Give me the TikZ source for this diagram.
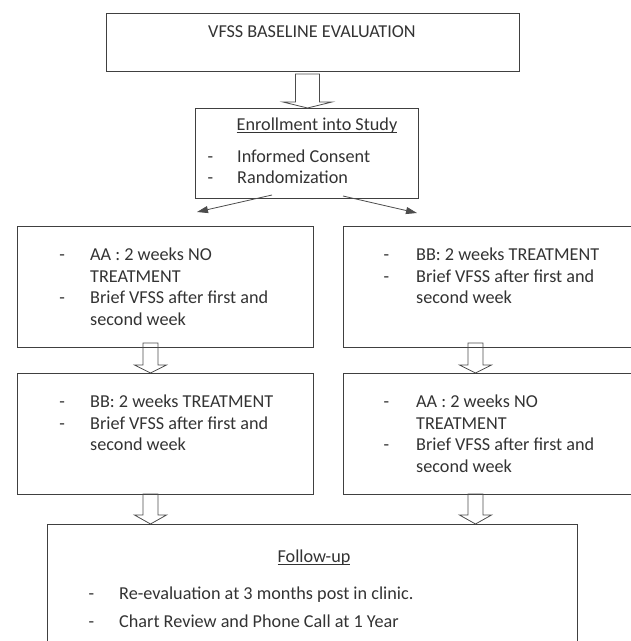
\documentclass[tikz,border=0pt]{standalone}
\usepackage{fontspec}
\setmainfont{Carlito}
\usetikzlibrary{arrows.meta}

\newcommand{\boxfont}{\fontsize{18.2}{21.5}\selectfont}
\newcommand{\underl}[1]{\setbox0\hbox{#1}\rlap{\rule[-2.6pt]{\wd0}{0.8pt}}#1}

\tikzset{
  box/.style={draw=black!75, line width=0.8pt, anchor=north west, inner sep=0pt},
  ttl/.style={anchor=base, inner sep=0pt, font=\boxfont, text=black!80},
  lst/.style={anchor=base west, inner sep=0pt, font=\boxfont, text=black!80},
  blockarrow/.style={draw=black!70, line width=0.8pt, line join=miter},
  thinarrow/.style={draw=black!70, line width=0.8pt, -{Triangle[length=11pt,width=7pt]}}
}

\begin{document}
\begin{tikzpicture}[x=1pt,y=-1pt]
        \useasboundingbox (0,0) rectangle (631,641);
        \clip (0,0) rectangle (631,641);

        % boxes
        \node[box,minimum width=413,minimum height=58]  (base)   at ( 106, 13) {};
        \node[box,minimum width=223,minimum height=90]  (enroll) at ( 195,108) {};
        \node[box,minimum width=296,minimum height=121] (aa1)    at (  17,226) {};
        \node[box,minimum width=300,minimum height=121] (bb1)    at ( 343,226) {};
        \node[box,minimum width=296,minimum height=121] (bb2)    at (  17,373) {};
        \node[box,minimum width=300,minimum height=121] (aa2)    at ( 343,373) {};
        \node[box,minimum width=530,minimum height=140] (follow) at (  47,524) {};

        % texts
        \node[ttl] (baset)   at (312, 37.7) {VFSS BASELINE EVALUATION};
        \node[ttl] (enrollh) at (317,130.5) {\underl{Enrollment into Study}};
        \node[lst] (enrolll) at (207.3,162) {\begin{tabular}[t]{@{}p{29.7pt}@{}l@{}}
            - & Informed Consent\\
            - & Randomization
          \end{tabular}};
        \node[lst] (aa1l) at (59.3,260.5) {\begin{tabular}[t]{@{}p{30.7pt}@{}l@{}}
            - & AA : 2 weeks NO\\
              & TREATMENT\\
            - & Brief VFSS after first and\\
              & second week
          \end{tabular}};
        \node[lst] (bb1l) at (383.3,260.5) {\begin{tabular}[t]{@{}p{32.7pt}@{}l@{}}
            - & BB: 2 weeks TREATMENT\\
            - & Brief VFSS after first and\\
              & second week
          \end{tabular}};
        \node[lst] (bb2l) at (59.3,407.5) {\begin{tabular}[t]{@{}p{30.7pt}@{}l@{}}
            - & BB: 2 weeks TREATMENT\\
            - & Brief VFSS after first and\\
              & second week
          \end{tabular}};
        \node[lst] (aa2l) at (383.3,407.5) {\begin{tabular}[t]{@{}p{32.7pt}@{}l@{}}
            - & AA : 2 weeks NO\\
              & TREATMENT\\
            - & Brief VFSS after first and\\
              & second week
          \end{tabular}};
        \node[ttl] (followh) at (314,562) {\underl{Follow-up}};
        \node[lst] (followl) at (88.5,599) {\begin{tabular}[t]{@{}p{30.5pt}@{}l@{}}
            - & Re-evaluation at 3 months post in clinic.\\[6.5pt]
            - & Chart Review and Phone Call at 1 Year
          \end{tabular}};

        % block arrows
        \coordinate (a0) at (307.5, 74);
        \coordinate (a1) at (150.5,343);
        \coordinate (a2) at (475.5,343);
        \coordinate (a3) at (150.5,494);
        \coordinate (a4) at (475.5,494);

        \draw[blockarrow] (a0) ++(-12,0) -- ++(0,28) -- ++(-12.5,0) -- (a0 |- enroll.north)
              -- ++(24.5,-6) -- ++(-12.5,0) -- ++(0,-28) -- cycle;
        \draw[blockarrow] (a1) ++(-7.5,0) -- ++(0,22) -- ++(-8.5,0) -- (a1 |- bb2.north)
              -- ++(16,-8) -- ++(-8.5,0) -- ++(0,-22) -- cycle;
        \draw[blockarrow] (a2) ++(-7.5,0) -- ++(0,22) -- ++(-8.5,0) -- (a2 |- aa2.north)
              -- ++(16,-8) -- ++(-8.5,0) -- ++(0,-22) -- cycle;
        \draw[blockarrow] (a3) ++(-7.5,0) -- ++(0,21) -- ++(-8.5,0) -- (a3 |- follow.north)
              -- ++(16,-9) -- ++(-8.5,0) -- ++(0,-21) -- cycle;
        \draw[blockarrow] (a4) ++(-7.5,0) -- ++(0,21) -- ++(-8.5,0) -- (a4 |- follow.north)
              -- ++(16,-9) -- ++(-8.5,0) -- ++(0,-21) -- cycle;

        % randomization arrows
        \coordinate (s1) at (272,195);
        \coordinate (t1) at (197,212);
        \coordinate (s2) at (343,196);
        \coordinate (t2) at (417,213);

        \draw[thinarrow] (s1) -- (t1);
        \draw[thinarrow] (s2) -- (t2);
      \end{tikzpicture}
\end{document}
